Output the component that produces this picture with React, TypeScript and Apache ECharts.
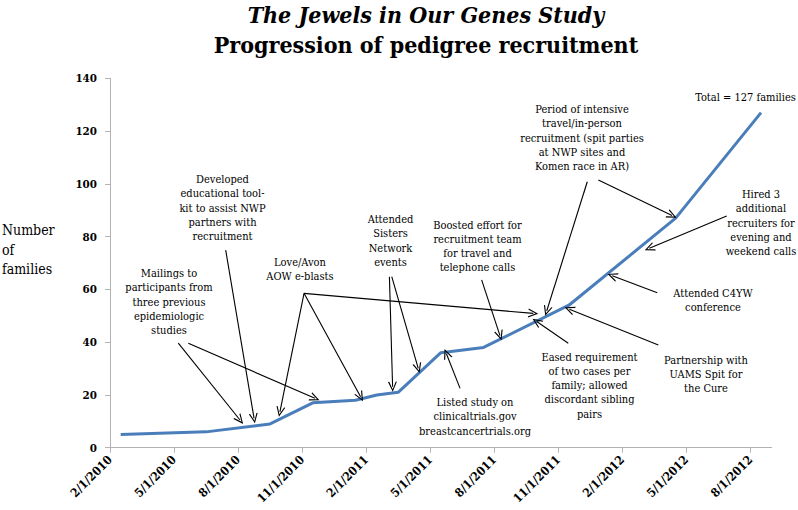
import React, { useEffect, useRef } from "react";
import * as echarts from "echarts";

// ---- data ----
const pointMonths = ["2010-02", "2010-06", "2010-09", "2010-11", "2011-01", "2011-02", "2011-03", "2011-05", "2011-07", "2011-11", "2012-04", "2012-08"];
const families = [5, 6, 9, 17, 18, 20, 21, 36, 38, 54, 87, 127];
const tickLabels = ["2/1/2010", "5/1/2010", "8/1/2010", "11/1/2010", "2/1/2011", "5/1/2011", "8/1/2011", "11/1/2011", "2/1/2012", "5/1/2012", "8/1/2012"];
const yTickStep = 20;
const yMax = 140;

const titleLine1 = "The Jewels in Our Genes Study";
const titleLine2 = "Progression of pedigree recruitment";
const yAxisTitle = ["Number", "of", "families"];

// annotation texts: [lines, centre x (px), first line centre y (px)]
const notes: [string[], number, number][] = [
  [["Mailings to", "participants from", "three previous", "epidemiologic", "studies"], 169, 273.5],
  [["Developed", "educational tool-", "kit to assist NWP", "partners with", "recruitment"], 222.5, 179.5],
  [["Love/Avon", "AOW e-blasts"], 300, 262.5],
  [["Attended", "Sisters", "Network", "events"], 390.5, 219.5],
  [["Boosted effort for", "recruitment team", "for travel and", "telephone calls"], 477.5, 225],
  [["Listed study on", "clinicaltrials.gov", "breastcancertrials.org"], 475, 402.5],
  [["Period of intensive", "travel/in-person", "recruitment (spit parties", "at NWP sites and", "Komen race in AR)"], 582, 109.5],
  [["Total = 127 families"], 745.5, 97.5],
  [["Hired 3", "additional", "recruiters for", "evening and", "weekend calls"], 761, 194.5],
  [["Attended C4YW", "conference"], 713, 293.5],
  [["Eased requirement", "of two cases per", "family; allowed", "discordant sibling", "pairs"], 589.5, 357],
  [["Partnership with", "UAMS Spit for", "the Cure"], 706, 360],
];

// arrows in data space: [fromMonth, fromValue, toMonth, toValue]
const arrows: [number, number, number, number][] = [
  [3.2, 39.6, 6.09, 10.5],
  [3.67, 39.6, 9.6, 18.7],
  [5.42, 74.9, 6.75, 11.1],
  [9.09, 58.5, 7.96, 13.6],
  [9.09, 58.5, 11.74, 19.3],
  [9.09, 58.5, 19.83, 50.9],
  [13.09, 64.8, 13.24, 23.1],
  [13.2, 64.8, 14.44, 30.1],
  [17.41, 63.6, 18.27, 42.5],
  [16.4, 22.5, 15.76, 35.6],
  [22.36, 100.8, 20.46, 51.8],
  [22.88, 101.5, 26.33, 88.0],
  [28.89, 87.8, 25.27, 75.6],
  [25.64, 58.7, 23.53, 65.2],
  [21.47, 39.6, 19.99, 47.8],
  [25.69, 38.9, 21.52, 52.5],
];

const SERIF = "DejaVu Serif Condensed, DejaVu Serif";

function monthIndex(s: string): number {
  const [y, m] = s.split("-").map(Number);
  return (y - 2010) * 12 + (m - 2) + 0.5;
}

export default function App() {
  const ref = useRef<HTMLDivElement>(null);
  useEffect(() => {
    if (!ref.current) return;
    const chart = echarts.init(ref.current, undefined, { renderer: "svg" });
    const tickValues = tickLabels.map((_, i) => i * 3);
    const lineData = pointMonths.map((m, i) => [monthIndex(m), families[i]]);

    const graphics: any[] = [
      {
        type: "text",
        style: { text: titleLine1, x: 426, y: 14, align: "center", verticalAlign: "middle", fontFamily: SERIF, fontSize: 23, lineHeight: 24, fontWeight: "bold", fontStyle: "italic", fill: "#000" },
      },
      {
        type: "text",
        style: { text: titleLine2, x: 426, y: 44, align: "center", verticalAlign: "middle", fontFamily: SERIF, fontSize: 23, lineHeight: 24, fontWeight: "bold", fill: "#000" },
      },
      {
        type: "text",
        style: { text: yAxisTitle.join("\n"), x: 2, y: 230 - 9.85, align: "left", verticalAlign: "top", fontFamily: SERIF, fontSize: 14, lineHeight: 19.7, fill: "#000" },
      },
      ...notes.map(([lines, cx, cy]) => ({
        type: "text",
        style: { text: lines.join("\n"), x: cx, y: cy - 7.15, align: "center", verticalAlign: "top", fontFamily: SERIF, fontSize: 11, lineHeight: 14.3, fill: "#000" },
      })),
    ];

    chart.setOption({
      animation: false,
      backgroundColor: "#fff",
      textStyle: { fontFamily: SERIF },
      grid: { left: 110, right: 26.3, top: 78.3, bottom: 62.3, containLabel: false },
      xAxis: {
        type: "value",
        min: 0,
        max: 31,
        interval: 3,
        splitLine: { show: false },
        axisLine: { show: true, lineStyle: { color: "#b3b3b3", width: 1 } },
        axisTick: { show: true, length: 5, lineStyle: { color: "#b3b3b3" }, customValues: tickValues },
        axisLabel: {
          customValues: tickValues,
          rotate: 45,
          margin: 10,
          fontFamily: SERIF,
          fontSize: 12,
          fontWeight: "bold",
          color: "#000",
          formatter: (v: number) => tickLabels[Math.round(v / 3)] ?? "",
        },
      },
      yAxis: {
        type: "value",
        min: 0,
        max: yMax,
        interval: yTickStep,
        splitLine: { show: false },
        axisLine: { show: true, lineStyle: { color: "#b3b3b3", width: 1 } },
        axisTick: { show: true, length: 5, lineStyle: { color: "#b3b3b3" } },
        axisLabel: { margin: 13, fontFamily: SERIF, fontSize: 11.5, fontWeight: "bold", color: "#000" },
      },
      series: [
        {
          type: "line",
          data: lineData,
          showSymbol: false,
          symbol: "none",
          lineStyle: { color: "#4A7EBB", width: 3 },
          itemStyle: { color: "#4A7EBB" },
          silent: true,
          markLine: {
            silent: true,
            symbol: ["none", "path://M0,10 L5,0 L10,10 L8.6,10 L5,2.6 L1.4,10 Z"],
            symbolSize: [9, 10],
            label: { show: false },
            lineStyle: { color: "#000", width: 1.1, type: "solid" },
            emphasis: { disabled: true },
            data: arrows.map(([x1, y1, x2, y2]) => [{ coord: [x1, y1] }, { coord: [x2, y2] }]),
          },
        },
      ],
      graphic: graphics,
    });
    return () => chart.dispose();
  }, []);
  return <div ref={ref} style={{ position: "fixed", left: 0, top: 0, width: 798, height: 510, background: "#fff" }} />;
}
